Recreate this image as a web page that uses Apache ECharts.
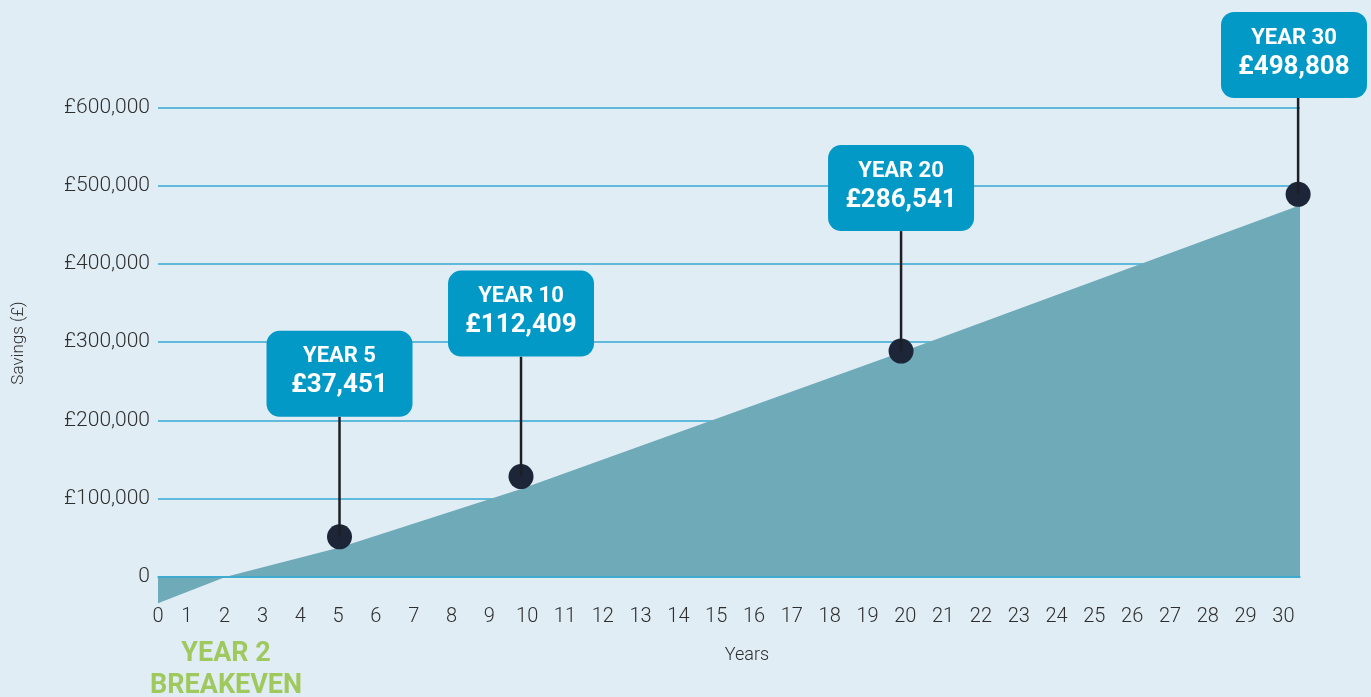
<!DOCTYPE html>
<html><head><meta charset="utf-8">
<script src="https://cdn.jsdelivr.net/npm/echarts@6/dist/echarts.min.js"></script>
<style>html,body{margin:0;padding:0;background:#e1edf5;}#c{width:1371px;height:697px;}</style>
</head><body><div id="c"></div>
<script>
// ---- data ----
const xTickLabels = ['0','1','2','3','4','5','6','7','8','9','10','11','12','13','14','15','16','17','18','19','20','21','22','23','24','25','26','27','28','29','30'];
const yTickValues = [0, 100000, 200000, 300000, 400000, 500000, 600000];
const yTickLabels = ['0', '£100,000', '£200,000', '£300,000', '£400,000', '£500,000', '£600,000'];
const areaYears   = [0, 1.8, 4.8, 9.6, 19.65, 30.2];
const areaSavings = [-34000, 0, 37500, 112000, 287000, 475000];
const calloutTitles  = ['YEAR 5', 'YEAR 10', 'YEAR 20', 'YEAR 30'];
const calloutAmounts = ['£37,451', '£112,409', '£286,541', '£498,808'];
const dotYears   = [4.8, 9.6, 19.65, 30.15];
const dotSavings = [51000, 128000, 288500, 489000];
const breakevenYear = 1.8;
const breakevenSavings = 0;
const breakevenLines = ['YEAR 2', 'BREAKEVEN'];
const xAxisTitle = 'Years';
const yAxisTitle = 'Savings (£)';

// ---- styles ----
const GRID_COLOR = '#35a8d2';
const TEXT_COLOR = '#2e2e2e';
const FONT = 'Roboto, "Noto Sans", sans-serif';
const GRID_TOP = 107.5, GRID_BOTTOM_PX = 654.9; // y=-100000 at bottom
const ZERO_SHIFT = 78.2; // distance from grid bottom (-100000) up to the 0 line

const chart = echarts.init(document.getElementById('c'), null, {renderer: 'canvas'});

const option = {
  animation: false,
  backgroundColor: '#e1edf5',
  grid: {left: 158, right: 71, top: GRID_TOP, bottom: 697 - GRID_BOTTOM_PX, containLabel: false, outerBoundsMode: 'none'},
  xAxis: {
    type: 'value', min: 0, max: 30.2, interval: 1,
    position: 'bottom', offset: -ZERO_SHIFT,
    name: xAxisTitle, nameLocation: 'middle', nameGap: 70,
    nameTextStyle: {fontSize: 18, color: TEXT_COLOR, fontFamily: FONT, fontWeight: 300, padding: [0, 0, 0, 36]},
    axisLine: {show: true, onZero: false, lineStyle: {color: GRID_COLOR, width: 1.5}},
    axisTick: {show: false},
    splitLine: {show: false},
    z: 3,
    axisLabel: {
      margin: 30, fontSize: 20, color: TEXT_COLOR, fontFamily: FONT, fontWeight: 300,
      formatter: function (v) {
        if (!Number.isInteger(v) || v < 0 || v >= xTickLabels.length) return '';
        return v === 0 ? '{z|' + xTickLabels[0] + '}' : '{a|' + xTickLabels[v] + '}';
      },
      rich: {
        z: {fontSize: 20, color: TEXT_COLOR, fontFamily: FONT, fontWeight: 300},
        a: {fontSize: 20, color: TEXT_COLOR, fontFamily: FONT, fontWeight: 300, padding: [0, 18, 0, 0]}
      }
    }
  },
  yAxis: {
    type: 'value', min: -100000, max: 600000, interval: 100000,
    axisLine: {show: false}, axisTick: {show: false},
    splitLine: {show: true, showMinLine: false, lineStyle: {color: GRID_COLOR, width: 1.5}},
    axisLabel: {
      margin: 8, fontSize: 21, color: TEXT_COLOR, fontFamily: FONT, fontWeight: 300,
      formatter: function (v) {
        const k = yTickValues.indexOf(v);
        return k < 0 ? '' : yTickLabels[k];
      }
    }
  },
  graphic: [{
    type: 'text', x: 19, y: 343, rotation: Math.PI / 2,
    style: {text: yAxisTitle, fill: TEXT_COLOR, font: '300 17px ' + FONT, align: 'center', verticalAlign: 'middle'}
  }],
  series: [
    {
      type: 'line', name: 'Savings',
      data: areaYears.map((x, i) => [x, areaSavings[i]]),
      showSymbol: false, symbol: 'none',
      lineStyle: {width: 0},
      areaStyle: {color: '#6eaab8', opacity: 1},
      z: 2, silent: true
    },
    {
      type: 'scatter', name: 'Breakeven',
      data: [[breakevenYear, breakevenSavings]],
      symbolSize: 1, itemStyle: {color: 'rgba(0,0,0,0)'}, silent: true, z: 4,
      label: {
        show: true, position: 'inside', offset: [0, 94],
        formatter: breakevenLines.map(s => '{a|' + s + '}').join('\n'),
        rich: {a: {fontSize: 27, fontWeight: 'bold', color: '#8fbf36', fontFamily: FONT, lineHeight: 32, align: 'center'}}
      }
    },
    {
      type: 'custom', name: 'Callouts', z: 6, silent: true, clip: false,
      data: dotYears.map((x, i) => [x, dotSavings[i], i]),
      renderItem: function (params, api) {
        const i = api.value(2);
        const p = api.coord([api.value(0), api.value(1)]);
        const w = 146, h = 86;
        let bottom = p[1] - 120;
        let top = bottom - h;
        if (top < 12) { top = 12; bottom = top + h; }
        const cx = Math.min(p[0], api.getWidth() - 4 - w / 2);
        return {
          type: 'group',
          children: [
            {type: 'circle', shape: {cx: p[0], cy: p[1], r: 12.5}, style: {fill: '#1c2638'}},
            {type: 'line', shape: {x1: p[0], y1: bottom, x2: p[0], y2: p[1]}, style: {stroke: '#1d1f24', lineWidth: 2.5}},
            {type: 'rect', shape: {x: cx - w / 2, y: top, width: w, height: h, r: 13}, style: {fill: '#0399c6'}},
            {type: 'text', x: cx, y: top + 26, style: {text: calloutTitles[i], fill: '#ffffff', font: 'bold 22px ' + FONT, align: 'center', verticalAlign: 'middle'}},
            {type: 'text', x: cx, y: top + 55, style: {text: calloutAmounts[i], fill: '#ffffff', font: 'bold 26px ' + FONT, align: 'center', verticalAlign: 'middle'}}
          ]
        };
      }
    }
  ]
};
chart.setOption(option);
</script>
</body></html>
